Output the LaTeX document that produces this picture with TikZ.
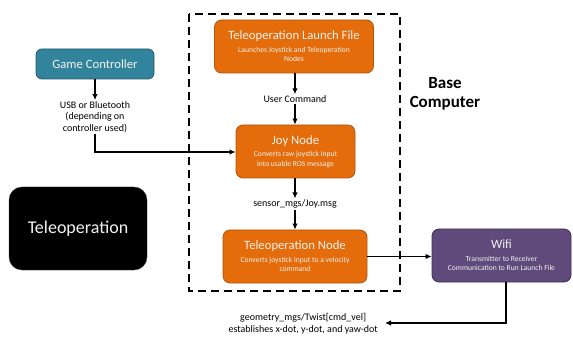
\documentclass[tikz,border=0pt]{standalone}
\usepackage{fontspec}
\setmainfont{Carlito}
\usetikzlibrary{arrows.meta,calc}

\definecolor{rosorange}{HTML}{E46C0A}
\definecolor{rosorangedark}{HTML}{B4550A}
\definecolor{ctrlteal}{HTML}{31849B}
\definecolor{ctrltealdark}{HTML}{215968}
\definecolor{wifipurple}{HTML}{604A7B}
\definecolor{wifipurpledark}{HTML}{3F3151}
\definecolor{boxtext}{HTML}{F2F2F2}

\tikzset{
  boxbase/.style={line width=0.8pt, align=center, text=boxtext, inner sep=0pt,
    font=\fontsize{7.6}{9.8}\selectfont},
  rosnode/.style={boxbase, draw=rosorangedark, fill=rosorange, rounded corners=7pt},
  ctrlnode/.style={boxbase, draw=ctrltealdark, fill=ctrlteal, rounded corners=6pt},
  wifinode/.style={boxbase, draw=wifipurpledark, fill=wifipurple, rounded corners=7pt},
  titlebox/.style={fill=black, draw=black!80, rounded corners=13pt,
    text=boxtext, inner sep=0pt},
  msglabel/.style={align=center, font=\fontsize{10}{11.5}\selectfont, inner sep=1pt},
  flow/.style={line width=1.4pt, -{Latex[length=6pt,width=5.5pt]}},
  region/.style={line width=1.8pt, dash pattern=on 8pt off 5pt},
}

\newcommand{\boxtitle}[1]{{\fontsize{12.7}{14}\selectfont #1}}

\begin{document}
\begin{tikzpicture}[x=1pt,y=-1pt]
  \useasboundingbox (0,0) rectangle (573,339);

  % base computer region
  \draw[region] (189,14) rectangle (400,291);
  \node[font=\bfseries\fontsize{17}{19}\selectfont, align=center] (basepc) at (445,94)
    {Base\\Computer};

  % ROS nodes inside the base computer
  \node[rosnode, minimum width=159pt, minimum height=53pt] (launch) at (294,46.5)
    {\boxtitle{Teleoperation Launch File}\\[2.5pt]Launches Joystick and Teleoperation\\Nodes};
  \node[msglabel] (usercmd) at (295,99) {User Command};
  \node[rosnode, minimum width=119pt, minimum height=53pt] (joy) at (295.5,151.5)
    {\boxtitle{Joy Node}\\[2.5pt]Converts raw joystick input\\into usable ROS message};
  \node[msglabel] (joymsg) at (295,204) {sensor\_mgs/Joy.msg};
  \node[rosnode, minimum width=144pt, minimum height=53pt] (teleop) at (295,256.5)
    {\boxtitle{Teleoperation Node}\\[2.5pt]Converts joystick input to a velocity\\command};

  % controller side
  \node[ctrlnode, minimum width=118pt, minimum height=30pt] (gamepad) at (95,64)
    {\boxtitle{Game Controller}};
  \node[msglabel] (usb) at (95,117) {USB or Bluetooth\\(depending on\\controller used)};
  \coordinate (usbturn) at (95,152);

  % wireless link
  \node[wifinode, minimum width=139pt, minimum height=53pt] (wifi) at (501.5,255.5)
    {\boxtitle{Wifi}\\[2.5pt]Transmitter to Receiver\\Communication to Run Launch File};
  \node[msglabel, anchor=east] (twist) at (379,323.5)
    {geometry\_mgs/Twist[cmd\_vel]\\establishes x-dot, y-dot, and yaw-dot};
  \coordinate (wifiturn) at (506,323);

  % title tile
  \node[titlebox, minimum width=138pt, minimum height=83pt] (title) at (78,228.5)
    {\fontsize{18}{21}\selectfont Teleoperation};

  % connectors
  \draw[flow] (launch.south -| usercmd) -- (usercmd.north);
  \draw[flow] (usercmd.south) -- (usercmd.south |- joy.north);
  \draw[flow] (joy.south -| joymsg) -- (joymsg.north);
  \draw[flow] (joymsg.south) -- (joymsg.south |- teleop.north);
  \draw[flow] (gamepad.south) -- (usb.north);
  \draw[flow] (usb.south) -- (usbturn) -- (joy.west |- usbturn);
  \draw[flow] (teleop.east) -- (wifi.west |- teleop.east);
  \draw[flow] (wifi.south -| wifiturn) -- (wifiturn) -- ($(twist.east |- wifiturn)+(6,0)$);
\end{tikzpicture}
\end{document}
